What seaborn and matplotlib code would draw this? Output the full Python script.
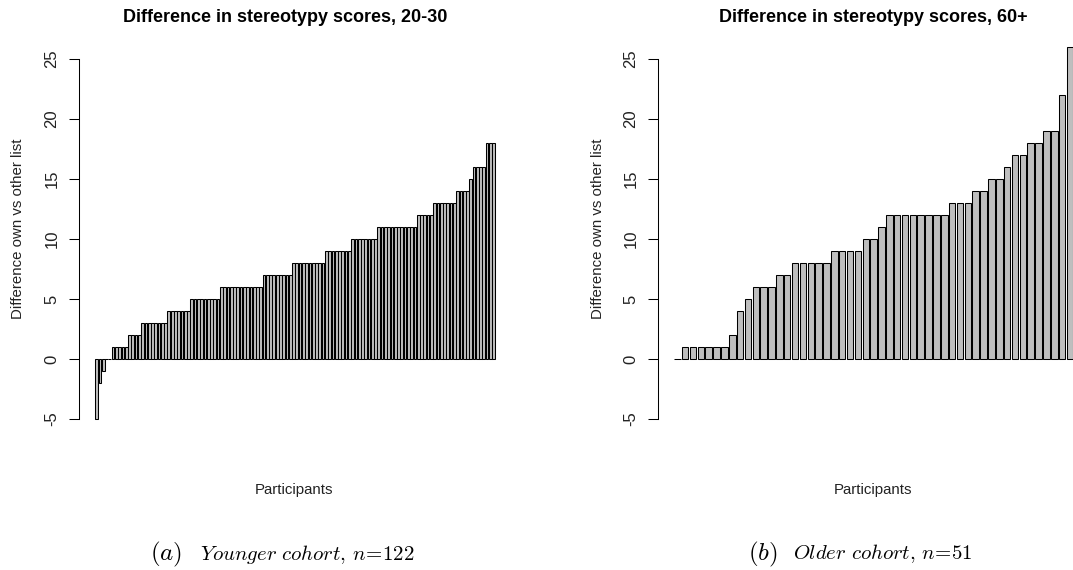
import numpy as np
import pandas as pd
import matplotlib
matplotlib.use("Agg")
import matplotlib.pyplot as plt
import seaborn as sns

# ---------------- data (sorted per-participant differences) ----------------
young_values = [-5, -2, -1, 0, 0,
                1, 1, 1, 1, 1,
                2, 2, 2, 2,
                3, 3, 3, 3, 3, 3, 3, 3,
                4, 4, 4, 4, 4, 4, 4,
                5, 5, 5, 5, 5, 5, 5, 5, 5,
                6, 6, 6, 6, 6, 6, 6, 6, 6, 6, 6, 6, 6,
                7, 7, 7, 7, 7, 7, 7, 7, 7,
                8, 8, 8, 8, 8, 8, 8, 8, 8, 8,
                9, 9, 9, 9, 9, 9, 9, 9,
                10, 10, 10, 10, 10, 10, 10, 10,
                11, 11, 11, 11, 11, 11, 11, 11, 11, 11, 11, 11,
                12, 12, 12, 12, 12,
                13, 13, 13, 13, 13, 13, 13,
                14, 14, 14, 14,
                15,
                16, 16, 16, 16,
                18, 18, 18]

old_values = [0,
              1, 1, 1, 1, 1, 1,
              2, 4, 5,
              6, 6, 6,
              7, 7,
              8, 8, 8, 8, 8,
              9, 9, 9, 9,
              10, 10,
              11,
              12, 12, 12, 12, 12, 12, 12, 12,
              13, 13, 13,
              14, 14,
              15, 15,
              16,
              17, 17,
              18, 18,
              19, 19,
              22, 26]

titles = ["Difference in stereotypy scores, 20-30",
          "Difference in stereotypy scores, 60+"]
captions = ["Younger cohort, n=122", "Older cohort, n=51"]
caption_tags = ["(a)", "(b)"]
y_ticks = [-5, 0, 5, 10, 15, 20, 25]
y_label = "Difference own vs other list"
x_label = "Participants"

# ---------------- style ----------------
sns.set_theme(style="white")
plt.rcParams["font.family"] = ["Liberation Sans", "DejaVu Sans"]
plt.rcParams["mathtext.fontset"] = "cm"

W, H = 1073, 570
fig = plt.figure(figsize=(W / 100, H / 100), dpi=100)
fig.patch.set_facecolor("white")

def px_box(x0, x1, ytop, ybot):
    return [x0 / W, 1 - ybot / H, (x1 - x0) / W, (ybot - ytop) / H]

ax_l = fig.add_axes(px_box(79.3, 511.6, 35, 431))
ax_r = fig.add_axes(px_box(658.0, 1073.0, 35, 431))

panels = [
    (ax_l, young_values, (-5.297, 126.46), 285, 294, 17),
    (ax_r, old_values, (-2.45, 50.38), 873, 873, 597),
]

fs = 10.8
for i, (ax, vals, xlim, title_x, xlabel_x, ylabel_x) in enumerate(panels):
    df = pd.DataFrame({"participant": np.arange(len(vals)), "diff": vals})
    sns.barplot(data=df, x="participant", y="diff", color="#BEBEBE",
                saturation=1, edgecolor="black", linewidth=0.75,
                width=1 / 1.2, ax=ax, errorbar=None)
    ax.set_xlim(*xlim)
    ax.set_ylim(-6, 27)
    ax.set_facecolor("white")
    for s in ["top", "right", "bottom"]:
        ax.spines[s].set_visible(False)
    ax.spines["left"].set_bounds(-5, 25)
    ax.spines["left"].set_color("black")
    ax.spines["left"].set_linewidth(0.75)
    ax.set_xticks([])
    ax.set_yticks(y_ticks)
    ax.set_yticklabels([str(t) for t in y_ticks], rotation=90, va="center",
                       fontsize=12, color="#222222")
    ax.tick_params(axis="y", left=True, length=7.2, width=0.75,
                   color="black", pad=7)
    ax.set_ylabel(y_label, fontsize=fs, color="#222222")
    ax.set_xlabel(x_label, fontsize=fs, color="#222222")
    ax0, ax1 = ax.get_position().x0 * W, ax.get_position().x1 * W
    ax.yaxis.set_label_coords((ylabel_x + 8 - ax0) / (ax1 - ax0), 0.51)
    ax.xaxis.set_label_coords((xlabel_x - ax0) / (ax1 - ax0), (431 - 483) / 396)
    ax.grid(False)

    fig.text(title_x / W, 1 - 18 / H, titles[i], ha="center", va="center",
             fontsize=13, fontweight="bold", color="black")

cap_pos = [(150, 200), (748, 793)]
for i, (xt, xc) in enumerate(cap_pos):
    fig.text(xt / W, 1 - 554 / H, r"$" + caption_tags[i] + r"$", ha="left",
             va="center", fontsize=18, color="black")
    txt = (captions[i].replace(", ", r",\,").replace(" ", r"\ ")
           .replace("=", r"\!=\!"))
    fig.text(xc / W, 1 - 554 / H, r"$\mathit{" + txt + r"}$", ha="left",
             va="center", fontsize=15, color="black")

fig.savefig("out.png", dpi=100, facecolor="white")
